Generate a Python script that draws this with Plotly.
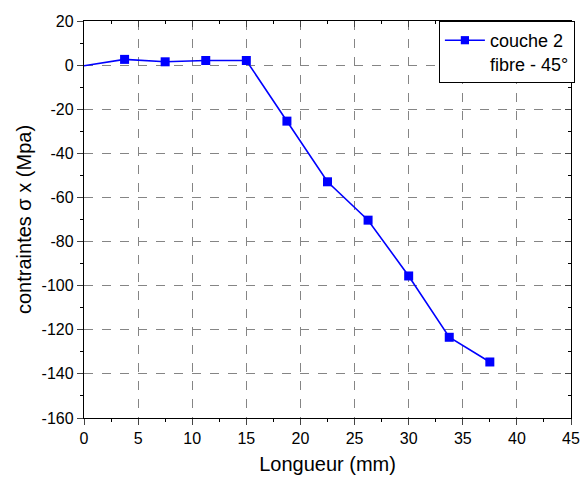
import plotly.graph_objects as go

longueur = [0, 3.75, 7.5, 11.25, 15.0, 18.75, 22.5, 26.25, 30.0, 33.75, 37.5]
contraintes = [-0.3, 2.6, 1.5, 2.1, 2.1, -25.4, -52.9, -70.3, -95.6, -123.4, -134.6]
series_name = "couche 2<br>fibre - 45°"
x_ticks = [0, 5, 10, 15, 20, 25, 30, 35, 40, 45]
y_ticks = [20, 0, -20, -40, -60, -80, -100, -120, -140, -160]

FONT = "Liberation Sans, Arial, sans-serif"

fig = go.Figure()
fig.add_trace(go.Scatter(
    x=longueur, y=contraintes, mode="lines+markers", name=series_name,
    line=dict(color="#0000ff", width=1.6),
    marker=dict(symbol="square", size=[0] + [9] * (len(longueur) - 1), color="#0000ff",
                opacity=1, line=dict(width=0)),
))
fig.add_trace(go.Scatter(x=[None], y=[None], xaxis="x2", yaxis="y2", showlegend=False))

grid = dict(showgrid=True, gridcolor="#858585", griddash="dash", gridwidth=1)
fig.update_layout(
    width=587, height=482,
    margin=dict(l=84, r=14, t=21, b=64),
    paper_bgcolor="white", plot_bgcolor="white",
    font=dict(family=FONT, color="black"),
    xaxis=dict(range=[0, 45], tickvals=x_ticks, ticktext=[str(v) for v in x_ticks],
               ticks="outside", ticklen=6, tickwidth=1.2, automargin=False,
               linecolor="black", linewidth=1.3, showline=True, mirror=True, zeroline=False,
               tickfont=dict(size=16), title=dict(text="Longueur (mm)", font=dict(size=20), standoff=10),
               minor=dict(dtick=2.5, tick0=0, ticks="outside", ticklen=3, tickcolor="black", showgrid=False),
               **grid),
    yaxis=dict(range=[-160, 20], tickvals=y_ticks, ticktext=[str(v) for v in y_ticks],
               ticks="outside", ticklen=6, tickwidth=1.2, automargin=False,
               linecolor="black", linewidth=1.3, showline=True, mirror=True, zeroline=False,
               tickfont=dict(size=16), title=dict(text="contraintes σ x (Mpa)", font=dict(size=20), standoff=4),
               minor=dict(dtick=10, tick0=0, ticks="outside", ticklen=3, tickcolor="black", showgrid=False),
               **grid),
    xaxis2=dict(overlaying="x", side="top", range=[0, 45], dtick=5, ticks="inside", ticklen=6,
                showticklabels=False, showgrid=False, zeroline=False, automargin=False,
                minor=dict(dtick=2.5, ticks="inside", ticklen=3, tickcolor="black")),
    yaxis2=dict(overlaying="y", side="right", range=[-160, 20], dtick=20, ticks="inside", ticklen=6,
                showticklabels=False, showgrid=False, zeroline=False, automargin=False,
                minor=dict(dtick=10, ticks="inside", ticklen=3, tickcolor="black")),
    legend=dict(x=1.008, xanchor="right", y=1.0, yanchor="top", bgcolor="white",
                bordercolor="black", borderwidth=1, font=dict(size=18, family=FONT),
                valign="top", itemwidth=40, tracegroupgap=0),
)
fig.write_html("out.html")
